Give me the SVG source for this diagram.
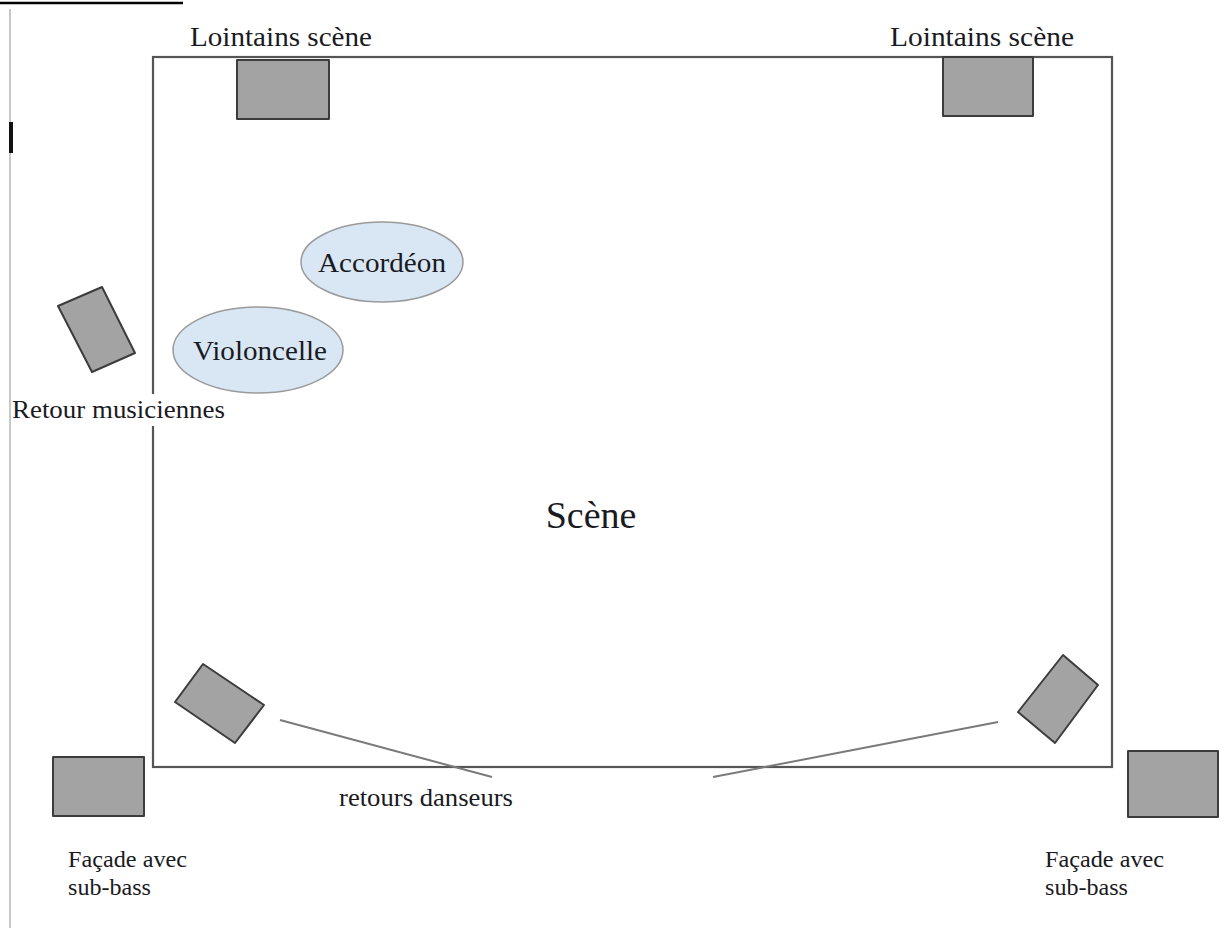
<svg xmlns="http://www.w3.org/2000/svg" width="1232" height="928" viewBox="0 0 1232 928">
<style>
.lbl{font-family:"Liberation Serif","Times New Roman",serif;fill:#1a1a22}
.spk{fill:#a3a3a3;stroke:#3c3c3c;stroke-width:2;stroke-linejoin:round}
.ell{fill:#d8e7f3;stroke:#9a9a9a;stroke-width:1.5}
.lead{stroke:#7a7a7a;stroke-width:2;fill:none}
</style>
<rect x="0" y="0" width="1232" height="928" fill="#ffffff"/>
<line x1="0" y1="3" x2="183" y2="3" stroke="#000" stroke-width="2.5"/>
<line x1="10" y1="9" x2="10" y2="928" stroke="#c8c8c8" stroke-width="2"/>
<rect x="9" y="122" width="4" height="31" fill="#111"/>

<g id="stage">
<rect x="153" y="57" width="959" height="710" fill="none" stroke="#555" stroke-width="2.2"/>
<text class="lbl" x="591" y="528" font-size="38" text-anchor="middle">Scène</text>
</g>

<g id="lointains-left">
<rect class="spk" x="237" y="60" width="92" height="59"/>
<text class="lbl" x="281" y="46" font-size="28" text-anchor="middle" textLength="182" lengthAdjust="spacingAndGlyphs">Lointains scène</text>
</g>
<g id="lointains-right">
<rect class="spk" x="943" y="57" width="90" height="59"/>
<text class="lbl" x="982" y="46" font-size="28" text-anchor="middle" textLength="184" lengthAdjust="spacingAndGlyphs">Lointains scène</text>
</g>

<g id="accordeon">
<ellipse class="ell" cx="382" cy="262" rx="81" ry="40"/>
<text class="lbl" x="382" y="272" font-size="28" text-anchor="middle" textLength="128" lengthAdjust="spacingAndGlyphs">Accordéon</text>
</g>
<g id="violoncelle">
<ellipse class="ell" cx="258" cy="350" rx="85" ry="43"/>
<text class="lbl" x="260" y="360" font-size="28" text-anchor="middle" textLength="134" lengthAdjust="spacingAndGlyphs">Violoncelle</text>
</g>

<g id="retour-musiciennes">
<polygon class="spk" points="58,306 102,287 135,353 92,372"/>
<rect x="12" y="394" width="214" height="32" fill="#fff"/>
<text class="lbl" x="12" y="418" font-size="26" textLength="213" lengthAdjust="spacingAndGlyphs">Retour musiciennes</text>
</g>

<g id="retour-danseur-left">
<polygon class="spk" points="175,702 203,664 264,705 235,743"/>
</g>
<g id="retour-danseur-right">
<polygon class="spk" points="1018,712 1063,655 1098,685 1055,743"/>
</g>
<g id="retours-danseurs-label">
<text class="lbl" x="339" y="806" font-size="26" textLength="174" lengthAdjust="spacingAndGlyphs">retours danseurs</text>
</g>

<g id="facade-left">
<rect class="spk" x="53" y="757" width="91" height="59"/>
<text class="lbl" x="68" y="867" font-size="23" textLength="119" lengthAdjust="spacingAndGlyphs">Façade avec</text>
<text class="lbl" x="68" y="895" font-size="23" textLength="83" lengthAdjust="spacingAndGlyphs">sub-bass</text>
</g>
<g id="facade-right">
<rect class="spk" x="1128" y="751" width="90" height="66"/>
<text class="lbl" x="1045" y="867" font-size="23" textLength="119" lengthAdjust="spacingAndGlyphs">Façade avec</text>
<text class="lbl" x="1045" y="895" font-size="23" textLength="83" lengthAdjust="spacingAndGlyphs">sub-bass</text>
</g>

<g id="connectors">
<line class="lead" x1="280" y1="720" x2="492" y2="777"/>
<line class="lead" x1="713" y1="777" x2="998" y2="722"/>
</g>
</svg>
